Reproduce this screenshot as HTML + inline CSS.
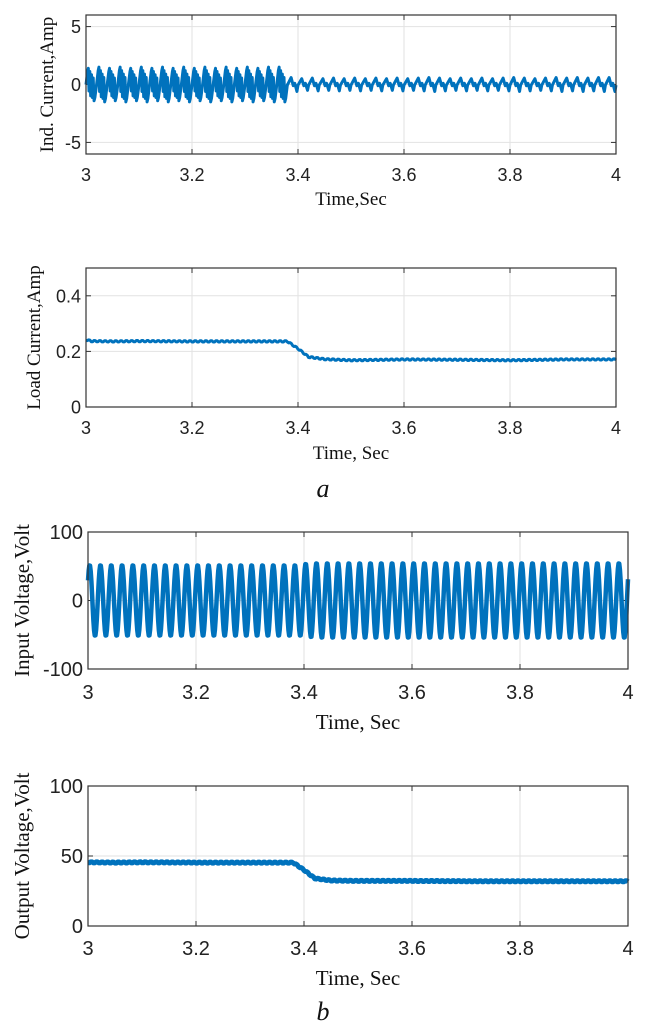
<!DOCTYPE html>
<html><head><meta charset="utf-8"><style>
html,body{margin:0;padding:0;background:#fff;}
svg{display:block;}
.tk{font-family:"Liberation Sans",sans-serif;fill:#222;}
.lb{font-family:"Liberation Serif",serif;fill:#111;}
</style></head><body>
<svg id="fig" width="646" height="1030" viewBox="0 0 646 1030" xmlns="http://www.w3.org/2000/svg"></svg>
<script>
// ---- data ----
const indTimeSplit = 3.38;
const indAmpBefore = [1.4,1.5,1.4,1.5,1.4,1.5,1.4,1.5,1.4,1.5,1.4,1.5,1.4,1.5,1.4,1.5,1.4,1.5,1.5];
const indAmpAfter = [0.6,0.5,0.55,0.5,0.55,0.5,0.55,0.5,0.55,0.5,0.55,0.5,0.55,0.6,0.55,0.5,0.55,0.5,0.55,0.5,0.55,0.6,0.55,0.5,0.55,0.6,0.55,0.6,0.55,0.6,0.6];
const vinAmp = [52,52,52,52,52,52,52,52,52,52,52,52,52,52,52,52,52,52,52,52,54,55,55,55,55,55,55,55,55,55,55,55,55,55,55,55,55,55,55,55,55,55,55,55,55,55,55,55,55,55];
const loadT = [3.0,3.01,3.05,3.1,3.2,3.3,3.38,3.4,3.42,3.45,3.5,3.6,3.7,3.8,3.9,4.0];
const loadI = [0.242,0.237,0.236,0.237,0.236,0.236,0.236,0.21,0.18,0.172,0.168,0.171,0.170,0.168,0.171,0.171];
const voutT = [3.0,3.05,3.1,3.2,3.3,3.38,3.4,3.42,3.45,3.5,3.6,3.7,3.8,3.9,4.0];
const voutV = [45.5,45.3,45.5,45.3,45.3,45.3,40,34,32.5,32.2,32.2,32,32,32,32];

const svg=document.getElementById('fig');
const NS='http://www.w3.org/2000/svg';
function mk(tag,attrs,parent){const e=document.createElementNS(NS,tag);for(const k in attrs)e.setAttribute(k,attrs[k]);(parent||svg).appendChild(e);return e;}

function axes(o){
  const g=mk('g',{});
  
  
  const X=t=>o.x0+(t-3)*(o.x1-o.x0);
  const Y=v=>o.y1-(v-o.ymin)/(o.ymax-o.ymin)*(o.y1-o.y0);
  mk('rect',{x:o.x0,y:o.y0,width:o.x1-o.x0,height:o.y1-o.y0,fill:'#fff'},g);
  const xt=[3,3.2,3.4,3.6,3.8,4];
  xt.forEach(t=>{
    mk('line',{x1:X(t),x2:X(t),y1:o.y0,y2:o.y1,stroke:'#e2e2e2','stroke-width':1},g);
    mk('line',{x1:X(t),x2:X(t),y1:o.y1,y2:o.y1-5,stroke:'#333'},g);
    mk('line',{x1:X(t),x2:X(t),y1:o.y0,y2:o.y0+5,stroke:'#333'},g);
    const tx=mk('text',{x:X(t),y:o.y1+o.fs+o.tko,'text-anchor':'middle','font-size':o.fs,class:'tk'},g);
    
    
    tx.textContent=String(t);
  });
  o.yt.forEach(v=>{
    mk('line',{x1:o.x0,x2:o.x1,y1:Y(v),y2:Y(v),stroke:'#e2e2e2','stroke-width':1},g);
    mk('line',{x1:o.x0,x2:o.x0+5,y1:Y(v),y2:Y(v),stroke:'#333'},g);
    mk('line',{x1:o.x1,x2:o.x1-5,y1:Y(v),y2:Y(v),stroke:'#333'},g);
    const tx=mk('text',{x:o.x0-5,y:Y(v)+o.fs*0.36,'text-anchor':'end','font-size':o.fs,class:'tk'},g);
    
    
    tx.textContent=String(v);
  });
  const pts=o.series(X,Y);
  const pl=mk('polyline',{points:pts.map(p=>p[0].toFixed(2)+','+p[1].toFixed(2)).join(' '),fill:'none',stroke:'#0072bd','stroke-width':o.sw,'stroke-linejoin':'round'},g);
  
  
  mk('rect',{x:o.x0,y:o.y0,width:o.x1-o.x0,height:o.y1-o.y0,fill:'none',stroke:'#333','stroke-width':1.2},g);
  const xl=mk('text',{x:(o.x0+o.x1)/2,y:o.xly,'text-anchor':'middle','font-size':o.lfs,class:'lb'},g);
  
  
  xl.textContent=o.xl;
  const cy=(o.y0+o.y1)/2;
  const yl=mk('text',{x:o.ylx,y:cy,'text-anchor':'middle','font-size':o.lfs,class:'lb',transform:`rotate(-90 ${o.ylx} ${cy})`},g);
  
  
  yl.textContent=o.yl;
  svg.appendChild(g);
}

function interp(T,V,rip){return (X,Y)=>{const p=[];for(let i=0;i<=400;i++){const t=3+i/400;let k=0;while(k<T.length-2&&t>T[k+1])k++;const f=(t-T[k])/(T[k+1]-T[k]);const v=V[k]+(V[k+1]-V[k])*f;p.push([X(t),Y(v)+(i%4<2?rip:-rip)]);}return p;};}

axes({name:'ind-current-chart',x0:86,x1:616,y0:15,y1:154,ymin:-6,ymax:6,yt:[-5,0,5],fs:18,lfs:19,sw:3,tko:9,
  xl:'Time,Sec',xly:205,yl:'Ind. Current,Amp',ylx:53,
  series:(X,Y)=>{const p=[];const per=0.02;
    for(let c=0;c<indAmpBefore.length;c++){const a=indAmpBefore[c];const t0=3+c*per;if(t0>=indTimeSplit)break;
      [[0,0],[0.15,a*0.8],[0.22,a],[0.28,-a*0.4],[0.36,a*0.8],[0.44,-a*0.7],[0.52,a*0.6],[0.6,-a*0.8],[0.68,a*0.4],[0.76,-a],[0.84,-a*0.8],[1,0]].forEach(s=>{const t=t0+s[0]*per;if(t<=indTimeSplit)p.push([X(t),Y(s[1])]);});}
    for(let c=0;c<indAmpAfter.length;c++){const a=indAmpAfter[c];const t0=indTimeSplit+c*per;if(t0>=4)break;
      [[0,-0.05],[0.35,a],[0.55,-0.1],[0.7,0.1],[0.9,-a],[1,-0.05]].forEach(s=>{const t=Math.min(4,t0+s[0]*per);p.push([X(t),Y(s[1])]);});}
    return p;}});

axes({name:'load-current-chart',x0:86,x1:616,y0:268,y1:407,ymin:0,ymax:0.5,yt:[0,0.2,0.4],fs:18,lfs:19,sw:3,tko:9,
  xl:'Time, Sec',xly:459,yl:'Load Current,Amp',ylx:40,series:interp(loadT,loadI,0.6)});

axes({name:'input-voltage-chart',x0:88,x1:628,y0:532,y1:669,ymin:-100,ymax:100,yt:[-100,0,100],fs:20,lfs:21,sw:4.5,tko:10,
  xl:'Time, Sec',xly:729,yl:'Input Voltage,Volt',ylx:29,
  series:(X,Y)=>{const p=[];const per=0.02;
    for(let c=0;c<vinAmp.length;c++){const a=vinAmp[c];for(let s=0;s<16;s++){const f=s/16;const t=3+(c+f)*per;p.push([X(t),Y(a*Math.sin(2*Math.PI*f+0.6))]);}}
    p.push([X(4),Y(vinAmp[vinAmp.length-1]*Math.sin(0.6))]);return p;}});

axes({name:'output-voltage-chart',x0:88,x1:628,y0:786,y1:926,ymin:0,ymax:100,yt:[0,50,100],fs:20,lfs:21,sw:5,tko:9,
  xl:'Time, Sec',xly:985,yl:'Output Voltage,Volt',ylx:29,series:interp(voutT,voutV,0.5)});

const ca=mk('text',{x:323,y:497,'text-anchor':'middle','font-size':26,'font-style':'italic',class:'lb'});


ca.textContent='a';
const cb=mk('text',{x:323,y:1020,'text-anchor':'middle','font-size':26,'font-style':'italic',class:'lb'});


cb.textContent='b';
</script>
</body></html>
